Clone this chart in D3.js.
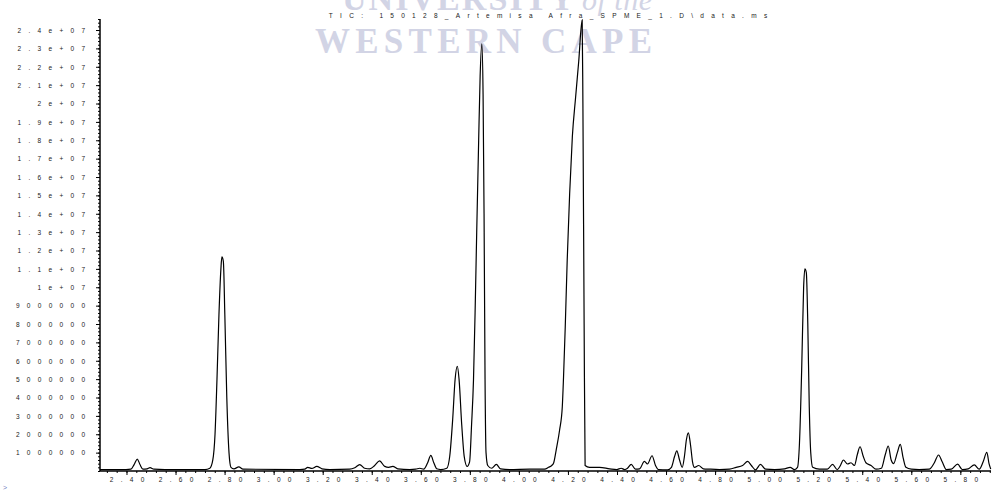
<!DOCTYPE html>
<html><head><meta charset="utf-8">
<script src="https://cdn.jsdelivr.net/npm/d3@7"></script>
<style>body{margin:0;background:#fff}svg{display:block}</style>
</head><body><svg id="c" width="992" height="493"></svg>
<script>
// retention time (min)
const times = [
 2.292, 2.398, 2.418, 2.431, 2.444, 2.455, 2.467, 2.484, 2.496, 2.512, 2.557,
 2.720, 2.740, 2.752, 2.761, 2.769, 2.777, 2.785, 2.789, 2.795, 2.801, 2.809, 2.818, 2.826, 2.838, 2.858, 2.875,
 3.107, 3.127, 3.139, 3.156, 3.176, 3.197, 3.229, 3.310, 3.331, 3.351, 3.371, 3.392, 3.412, 3.432, 3.453, 3.469, 3.486, 3.506,
 3.555, 3.579, 3.596, 3.612, 3.628, 3.641, 3.653, 3.665, 3.681,
 3.706, 3.718, 3.730, 3.740, 3.749, 3.756, 3.767, 3.777, 3.789,
 3.799, 3.807, 3.815, 3.822, 3.828, 3.836, 3.842, 3.849, 3.854, 3.858, 3.862, 3.866, 3.873, 3.889, 3.908, 3.925, 3.962, 4.044,
 4.105, 4.121, 4.134, 4.142, 4.152, 4.166, 4.177, 4.182, 4.189, 4.197, 4.207, 4.218, 4.231, 4.244, 4.258, 4.261, 4.266, 4.270,
 4.288, 4.329, 4.370, 4.399, 4.417, 4.431, 4.443, 4.458, 4.475, 4.492, 4.512, 4.524, 4.543, 4.557, 4.569,
 4.606, 4.622, 4.635, 4.644, 4.655, 4.666, 4.675, 4.683, 4.691, 4.700, 4.708, 4.716, 4.733, 4.752, 4.777,
 4.818, 4.859, 4.886, 4.912, 4.933, 4.948, 4.965, 4.985, 5.006, 5.043, 5.083, 5.106, 5.124,
 5.136, 5.144, 5.153, 5.161, 5.166, 5.172, 5.178, 5.184, 5.190, 5.198,
 5.225, 5.258, 5.279, 5.298, 5.311, 5.323, 5.340, 5.354, 5.368, 5.380, 5.391, 5.404, 5.415, 5.436, 5.456,
 5.478, 5.494, 5.506, 5.518, 5.528, 5.543, 5.555, 5.567, 5.578, 5.600, 5.632,
 5.673, 5.694, 5.711, 5.726, 5.743, 5.763, 5.789, 5.808, 5.832, 5.857, 5.877, 5.893, 5.908, 5.917, 5.924
];
// abundance (millions of counts)
const abundance = [
 0.08, 0.08, 0.10, 0.35, 0.65, 0.35, 0.10, 0.12, 0.18, 0.10, 0.08,
 0.08, 0.15, 0.60, 2.0, 5.0, 8.5, 11.0, 11.65, 11.4, 8.5, 4.0, 1.0, 0.20, 0.12, 0.22, 0.10,
 0.08, 0.10, 0.20, 0.14, 0.25, 0.12, 0.08, 0.10, 0.18, 0.35, 0.15, 0.12, 0.30, 0.55, 0.25, 0.20, 0.25, 0.12,
 0.08, 0.10, 0.15, 0.10, 0.45, 0.85, 0.45, 0.12, 0.08,
 0.15, 0.80, 2.8, 5.0, 5.7, 5.0, 2.5, 0.80, 0.25,
 0.50, 2.5, 5.0, 9.0, 13.0, 18.0, 21.5, 23.25, 20.5, 14.0, 5.0, 1.0, 0.30, 0.15, 0.36, 0.12, 0.08, 0.10,
 0.10, 0.20, 0.30, 0.45, 1.14, 2.23, 3.5, 5.1, 7.84, 11.47, 15.1, 18.2, 20.3, 22.3, 24.55, 20.0, 8.0, 0.30,
 0.20, 0.20, 0.12, 0.08, 0.15, 0.08, 0.15, 0.36, 0.10, 0.12, 0.52, 0.38, 0.83, 0.30, 0.08,
 0.06, 0.20, 0.80, 1.10, 0.60, 0.20, 0.80, 1.70, 2.08, 1.40, 0.50, 0.20, 0.30, 0.12, 0.10,
 0.08, 0.10, 0.20, 0.30, 0.52, 0.30, 0.06, 0.36, 0.10, 0.08, 0.12, 0.20, 0.08,
 0.20, 1.5, 5.5, 10.0, 11.0, 10.8, 8.0, 3.5, 1.0, 0.20,
 0.10, 0.10, 0.36, 0.08, 0.30, 0.60, 0.38, 0.45, 0.30, 0.90, 1.32, 0.80, 0.45, 0.30, 0.10,
 0.15, 0.90, 1.36, 0.60, 0.40, 1.00, 1.45, 0.70, 0.20, 0.10, 0.08,
 0.10, 0.45, 0.87, 0.50, 0.08, 0.10, 0.37, 0.08, 0.12, 0.33, 0.10, 0.50, 1.02, 0.40, 0.10
];
const xTicks = [2.40, 2.60, 2.80, 3.00, 3.20, 3.40, 3.60, 3.80, 4.00, 4.20, 4.40, 4.60, 4.80, 5.00, 5.20, 5.40, 5.60, 5.80];
const xTickLabels = ["2.40","2.60","2.80","3.00","3.20","3.40","3.60","3.80","4.00","4.20","4.40","4.60","4.80","5.00","5.20","5.40","5.60","5.80"];
const yTicks = [1,2,3,4,5,6,7,8,9,10,11,12,13,14,15,16,17,18,19,20,21,22,23,24];
const yTickLabels = ["1000000","2000000","3000000","4000000","5000000","6000000","7000000","8000000","9000000",
 "1e+07","1.1e+07","1.2e+07","1.3e+07","1.4e+07","1.5e+07","1.6e+07","1.7e+07","1.8e+07","1.9e+07",
 "2e+07","2.1e+07","2.2e+07","2.3e+07","2.4e+07"];
const title = "TIC: 150128_Artemisa Afra_SPME_1.D\\data.ms";

const svg = d3.select("#c");
const LS = 7.3, FS = 6.5, FONT = "'Liberation Sans', Arial, sans-serif";

// watermark
const wm = svg.append("g").attr("fill", "#d2d4e5").attr("font-family", "'Liberation Serif','DejaVu Serif',serif");
wm.append("text").attr("x", 342).attr("y", 10).attr("font-size", 34).attr("font-weight", "bold")
  .attr("textLength", 232).attr("lengthAdjust", "spacing").text("UNIVERSITY");
wm.append("text").attr("x", 582).attr("y", 10).attr("font-size", 30).attr("font-style", "italic")
  .attr("textLength", 70).attr("lengthAdjust", "spacing").text("of the");
wm.append("text").attr("x", 315).attr("y", 53).attr("font-size", 35).attr("font-weight", "bold")
  .attr("textLength", 337).attr("lengthAdjust", "spacing").text("WESTERN CAPE");

const x = d3.scaleLinear().domain([2.292, 5.925]).range([100, 991]);
const y = d3.scaleLinear().domain([0, 24.6]).range([471, 19]);

// title
svg.append("text").attr("x", 548 + LS/2).attr("y", 18).attr("text-anchor", "middle")
  .attr("font-family", FONT).attr("font-size", FS).style("letter-spacing", LS + "px")
  .attr("fill", "#222").text(title);

// y axis
const yMinor = d3.range(0, 124).map(i => i * 0.2).filter(v => v <= 24.6);
svg.append("g").attr("transform", "translate(100,0)")
  .call(d3.axisLeft(y).tickValues(yMinor).tickSize(2).tickFormat(""))
  .call(g => g.select(".domain").remove())
  .call(g => g.selectAll("line").attr("stroke", "#000"));
const yAx = svg.append("g").attr("transform", "translate(100,0)")
  .call(d3.axisLeft(y).tickValues(yTicks).tickSize(4).tickPadding(0)
    .tickFormat((d, i) => yTickLabels[i]));
yAx.select(".domain").remove();
yAx.selectAll("line").attr("stroke", "#000");
yAx.selectAll("text").attr("x", -15 + LS).attr("dy", "0.35em")
  .attr("font-family", FONT).attr("font-size", FS).style("letter-spacing", LS + "px").attr("fill", "#222");
svg.append("line").attr("x1", 100).attr("x2", 100).attr("y1", 19).attr("y2", 471)
  .attr("stroke", "#000").attr("stroke-width", 1.5);

// x axis
const xMinor = d3.range(0, 91).map(i => 2.32 + i * 0.04).filter(t => t <= 5.925);
svg.append("g").attr("transform", "translate(0,471)")
  .call(d3.axisBottom(x).tickValues(xMinor).tickSize(2).tickFormat(""))
  .call(g => g.select(".domain").remove())
  .call(g => g.selectAll("line").attr("stroke", "#000"));
const xAx = svg.append("g").attr("transform", "translate(0,471)")
  .call(d3.axisBottom(x).tickValues(xTicks).tickSize(4).tickPadding(2)
    .tickFormat((d, i) => xTickLabels[i]));
xAx.select(".domain").remove();
xAx.selectAll("line").attr("stroke", "#000");
xAx.selectAll("text").attr("x", LS/2).attr("dy", "0.71em")
  .attr("font-family", FONT).attr("font-size", FS).style("letter-spacing", LS + "px").attr("fill", "#222");
svg.append("line").attr("x1", 100).attr("x2", 991).attr("y1", 471).attr("y2", 471)
  .attr("stroke", "#000").attr("stroke-width", 1.5);

// trace
const pts = times.map((t, i) => [t, abundance[i]]);
svg.append("path").datum(pts)
  .attr("d", d3.line().x(d => x(d[0])).y(d => y(d[1])).curve(d3.curveMonotoneX))
  .attr("fill", "none").attr("stroke", "#000").attr("stroke-width", 1.2);

svg.append("text").attr("x", 3).attr("y", 490).attr("font-family", FONT).attr("font-size", 7)
  .attr("fill", "#6f7fc0").text(">");
</script></body></html>
